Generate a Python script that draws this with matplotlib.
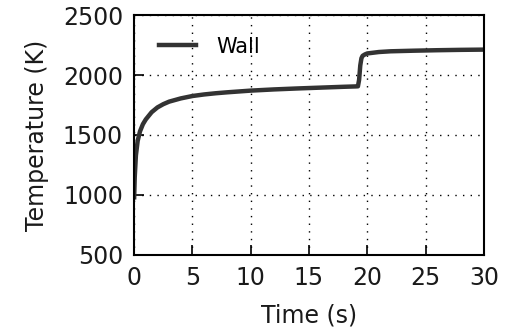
import matplotlib
matplotlib.use("Agg")
import matplotlib.pyplot as plt

time_s = [0.0, 0.05, 0.15, 0.3, 0.5, 0.75, 1.0, 1.5, 2.0, 2.5, 3.0, 4.0, 5.0, 6.0, 7.0,
          8.0, 10.0, 12.0, 14.0, 16.0, 18.0, 19.0, 19.2, 19.3, 19.4, 19.5, 19.6, 19.8,
          20.0, 21.0, 22.0, 24.0, 26.0, 28.0, 30.0]
wall_K = [980, 1150, 1330, 1450, 1530, 1590, 1630, 1690, 1730, 1757, 1778, 1805, 1825,
          1838, 1848, 1856, 1870, 1880, 1888, 1895, 1902, 1905, 1906, 1960, 2080, 2140,
          2160, 2172, 2180, 2192, 2198, 2203, 2207, 2210, 2212]

fig = plt.figure(figsize=(5.18, 3.28), dpi=100)
ax = fig.add_axes([0.259, 0.223, 0.675, 0.731])
ax.plot(time_s, wall_K, color="#333333", lw=3.2, label="Wall")
ax.set_xlim(0, 30)
ax.set_ylim(500, 2500)
ax.set_xticks([0, 5, 10, 15, 20, 25, 30])
ax.set_yticks([500, 1000, 1500, 2000, 2500])
ax.grid(True, color="black", linestyle=(0, (1, 4.5)), linewidth=1)
ax.tick_params(direction="in", length=7, width=1.2, labelsize=17, pad=8,
               colors="black", labelcolor="#1a1a1a")
for s in ax.spines.values():
    s.set_linewidth(1.5)
ax.set_xlabel("Time (s)", fontsize=17, color="#1a1a1a", labelpad=10)
ax.set_ylabel("Temperature (K)", fontsize=17, color="#1a1a1a", labelpad=10)
ax.legend(loc="upper left", bbox_to_anchor=(0.012, 0.997), frameon=False, fontsize=15,
          handlelength=1.75, handletextpad=1.0, borderaxespad=0.6)
fig.savefig("out.png", dpi=100)
